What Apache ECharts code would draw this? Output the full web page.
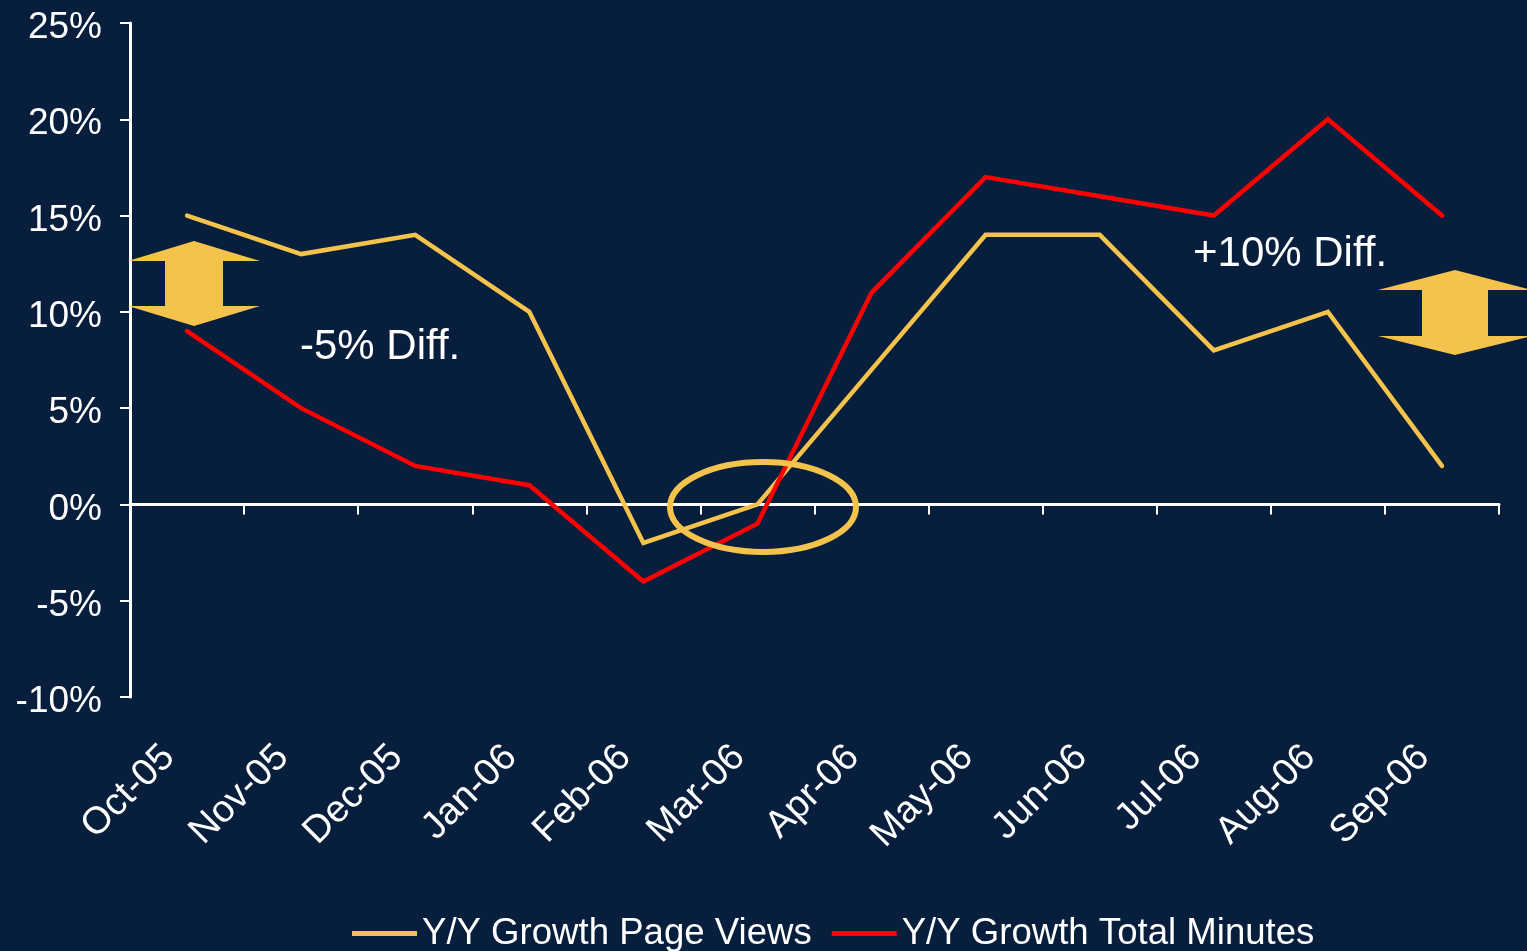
<!DOCTYPE html>
<html>
<head>
<meta charset="utf-8">
<script src="https://cdn.jsdelivr.net/npm/echarts@6/dist/echarts.min.js"></script>
<style>
html,body{margin:0;padding:0;background:#071e3d;}
#c{width:1527px;height:951px;}
</style>
</head>
<body>
<div id="c"></div>
<script>
var categories = ['Oct-05','Nov-05','Dec-05','Jan-06','Feb-06','Mar-06','Apr-06','May-06','Jun-06','Jul-06','Aug-06','Sep-06'];
var pageViews = [15, 13, 14, 10, -2, 0, 7, 14, 14, 8, 10, 2];
var totalMinutes = [9, 5, 2, 1, -4, -1, 11, 17, 16, 15, 20, 15];
var yTicks = [-10, -5, 0, 5, 10, 15, 20, 25];

var YELLOW = '#f4c34c';
var RED = '#ff0000';
var FONT = 'Liberation Sans, Arial, sans-serif';

var chart = echarts.init(document.getElementById('c'));

function arrow(cx, top, headBase1, headBase2, bottom, halfHead, halfShaft) {
  return [
    [cx, top], [cx + halfHead, headBase1], [cx + halfShaft, headBase1],
    [cx + halfShaft, headBase2], [cx + halfHead, headBase2], [cx, bottom],
    [cx - halfHead, headBase2], [cx - halfShaft, headBase2],
    [cx - halfShaft, headBase1], [cx - halfHead, headBase1]
  ];
}

chart.setOption({
  backgroundColor: '#071e3d',
  animation: false,
  grid: { left: 130, right: 28, top: 23, bottom: 254, containLabel: false },
  legend: {
    top: 915,
    left: 352,
    padding: 0,
    itemWidth: 65,
    itemHeight: 5,
    itemGap: 20,
    icon: 'rect',
    textStyle: { color: '#ffffff', fontSize: 36.6, fontFamily: FONT },
    data: ['Y/Y Growth Page Views', 'Y/Y Growth Total Minutes']
  },
  xAxis: [
    {
      type: 'category',
      data: categories,
      position: 'bottom',
      boundaryGap: true,
      axisLine: { show: false, onZero: false },
      axisTick: { show: false },
      axisLabel: { color: '#ffffff', fontSize: 38, fontFamily: FONT, rotate: 45, margin: 36, padding: [0, 26, 0, 0], interval: 0 }
    },
    {
      type: 'category',
      data: categories,
      position: 'bottom',
      boundaryGap: true,
      axisLine: { show: true, onZero: true, lineStyle: { color: '#ffffff', width: 3 } },
      axisTick: { show: true, length: 10, lineStyle: { color: '#ffffff', width: 2 } },
      axisLabel: { show: false }
    }
  ],
  yAxis: {
    type: 'value',
    min: yTicks[0],
    max: yTicks[yTicks.length - 1],
    interval: 5,
    axisLine: { show: true, lineStyle: { color: '#ffffff', width: 3 } },
    axisTick: { show: true, length: 10, lineStyle: { color: '#ffffff', width: 2 } },
    splitLine: { show: false },
    axisLabel: { color: '#ffffff', fontSize: 37, fontFamily: FONT, margin: 28, verticalAlign: 'top', lineHeight: 10, formatter: '{value}%' }
  },
  series: [
    {
      name: 'Y/Y Growth Page Views',
      type: 'line',
      xAxisIndex: 0,
      data: pageViews,
      showSymbol: false,
      symbol: 'none',
      itemStyle: { color: YELLOW },
      lineStyle: { color: YELLOW, width: 4.5, cap: 'round', join: 'miter' },
      z: 3
    },
    {
      name: 'Y/Y Growth Total Minutes',
      type: 'line',
      xAxisIndex: 0,
      data: totalMinutes,
      showSymbol: false,
      symbol: 'none',
      itemStyle: { color: RED },
      lineStyle: { color: RED, width: 4.5, cap: 'round', join: 'miter' },
      z: 4
    }
  ],
  graphic: [
    {
      type: 'polygon',
      shape: { points: arrow(194, 241, 261, 306, 326, 66, 29) },
      style: { fill: YELLOW },
      z: 10
    },
    {
      type: 'polygon',
      shape: { points: arrow(1455, 270, 290, 336, 355, 77, 33) },
      style: { fill: YELLOW },
      z: 10
    },
    {
      type: 'ellipse',
      shape: { cx: 763, cy: 507, rx: 93, ry: 45 },
      style: { fill: 'none', stroke: YELLOW, lineWidth: 6 },
      z: 10
    },
    {
      type: 'text',
      left: 300, top: 326,
      style: { text: '-5% Diff.', fill: '#ffffff', font: '42px ' + FONT },
      z: 10
    },
    {
      type: 'text',
      left: 1193, top: 233,
      style: { text: '+10% Diff.', fill: '#ffffff', font: '42px ' + FONT },
      z: 10
    }
  ]
});
</script>
</body>
</html>
